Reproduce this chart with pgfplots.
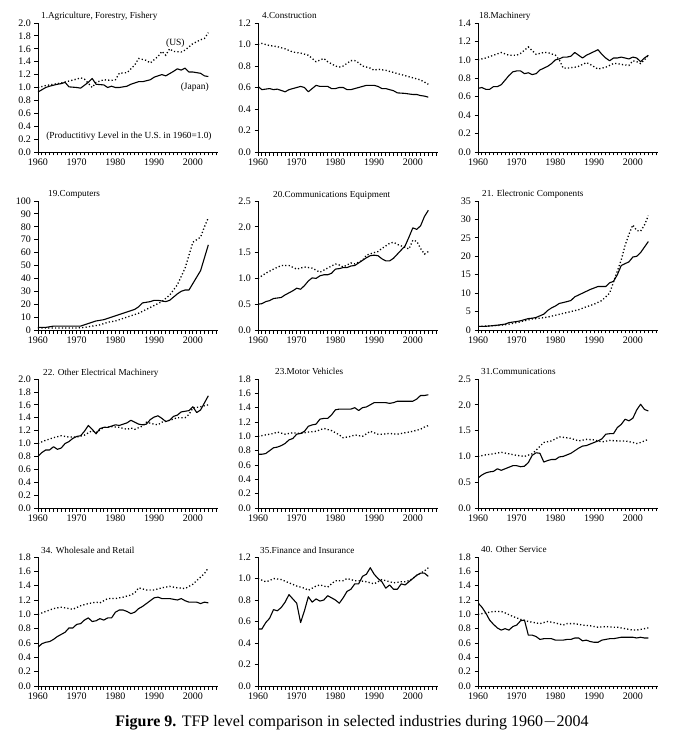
\documentclass[border=0pt]{standalone}
\usepackage{pgfplots}
\pgfplotsset{compat=1.18}
\usepgfplotslibrary{groupplots}
\usepackage{fontspec}
\setmainfont{Liberation Serif}

\pgfplotsset{
  tfp/.style={
    scale only axis, width=180pt, height=129pt,
    clip mode=individual,
    axis lines=left, axis line style={-, line width=0.9pt},
    xmin=1960, xmax=2006.5, ymin=0,
    xtick={1960,1970,1980,1990,2000},
    minor xtick={1960,...,2006},
    tick align=outside,
    major tick length=3.5pt, minor tick length=3.5pt,
    tick style={black, line width=0.8pt},
    tick label style={font=\fontsize{10}{10}\selectfont},
    /pgf/number format/assume math mode=true,
    yticklabel style={/pgf/number format/.cd, fixed, fixed zerofill, precision=1},
    xticklabel style={/pgf/number format/.cd, 1000 sep={}},
  },
  jp/.style={black, line width=1.1pt, line join=round},
  us/.style={black, line width=1.3pt, dash pattern=on 1.2pt off 2.2pt},
}
\newcommand{\ttl}[2]{\node[anchor=base west, inner sep=0pt, font=\fontsize{9.2}{9.2}\selectfont] at ([xshift=#1pt,yshift=4pt]rel axis cs:0,1) {#2};}

\begin{document}
\begin{tikzpicture}
\begin{groupplot}[group style={group size=3 by 4, horizontal sep=40pt, vertical sep=49pt}, tfp]

% 1 Agriculture
\nextgroupplot[ymax=2.0, ytick={0,0.2,0.4,0.6,0.8,1.0,1.2,1.4,1.6,1.8,2.0}]
\addplot[jp] coordinates {(1960,0.93)(1962,1.0)(1963,1.02)(1965,1.05)(1966,1.06)(1967,1.08)(1968,1.01)(1970,1.0)(1971,0.99)(1973,1.08)(1974,1.14)(1975,1.05)(1977,1.04)(1978,1.0)(1979,1.02)(1980,1.0)(1981,1.0)(1983,1.02)(1984,1.05)(1986,1.09)(1987,1.09)(1989,1.12)(1990,1.16)(1992,1.2)(1993,1.18)(1995,1.25)(1996,1.29)(1997,1.27)(1998,1.3)(1999,1.24)(2000,1.24)(2002,1.22)(2003,1.18)(2004,1.17)};
\addplot[us] coordinates {(1960,1.0)(1962,1.03)(1964,1.05)(1966,1.07)(1968,1.1)(1970,1.13)(1971,1.15)(1972,1.13)(1974,1.0)(1975,1.08)(1977,1.12)(1979,1.11)(1980,1.12)(1981,1.22)(1983,1.23)(1985,1.35)(1986,1.45)(1988,1.42)(1989,1.38)(1991,1.48)(1992,1.56)(1993,1.5)(1994,1.6)(1995,1.56)(1997,1.55)(1998,1.58)(2000,1.68)(2002,1.74)(2003,1.76)(2004,1.85)};
\ttl{3}{1.Agriculture, Forestry, Fishery}
\node[font=\fontsize{9.5}{9.5}\selectfont] at (axis cs:1995.5,1.68) {(US)};
\node[font=\fontsize{9.5}{9.5}\selectfont] at (axis cs:2000.5,1.0) {(Japan)};
\node[font=\fontsize{9.3}{9.3}\selectfont] at (axis cs:1983.5,0.24) {(Productitivy Level in the U.S. in 1960=1.0)};

% 4 Construction
\nextgroupplot[ymax=1.2, ytick={0,0.2,0.4,0.6,0.8,1.0,1.2}]
\addplot[jp] coordinates {(1960,0.61)(1961,0.58)(1963,0.59)(1964,0.58)(1965,0.585)(1967,0.56)(1968,0.58)(1969,0.59)(1971,0.61)(1972,0.6)(1973,0.56)(1974,0.59)(1975,0.62)(1976,0.61)(1978,0.61)(1979,0.59)(1980,0.59)(1981,0.6)(1982,0.6)(1983,0.58)(1984,0.58)(1986,0.6)(1987,0.61)(1988,0.62)(1990,0.62)(1991,0.61)(1992,0.59)(1993,0.59)(1995,0.57)(1996,0.55)(1998,0.545)(2000,0.535)(2001,0.535)(2002,0.525)(2003,0.52)(2004,0.51)};
\addplot[us] coordinates {(1960,1.0)(1961,1.01)(1963,0.99)(1965,0.98)(1967,0.96)(1969,0.93)(1971,0.92)(1973,0.9)(1975,0.84)(1977,0.87)(1978,0.84)(1980,0.8)(1981,0.79)(1982,0.8)(1984,0.85)(1985,0.85)(1986,0.83)(1987,0.8)(1989,0.78)(1990,0.76)(1991,0.77)(1993,0.76)(1994,0.75)(1996,0.73)(1997,0.72)(1999,0.7)(2001,0.68)(2002,0.67)(2003,0.65)(2004,0.63)};
\ttl{4}{4.Construction}

% 18 Machinery
\nextgroupplot[ymax=1.4, ytick={0,0.2,0.4,0.6,0.8,1.0,1.2,1.4}]
\addplot[jp] coordinates {(1960,0.69)(1961,0.7)(1962,0.68)(1963,0.68)(1964,0.71)(1965,0.71)(1966,0.73)(1967,0.78)(1968,0.83)(1969,0.87)(1970,0.88)(1971,0.88)(1972,0.85)(1973,0.86)(1974,0.84)(1975,0.85)(1976,0.89)(1977,0.91)(1978,0.93)(1979,0.96)(1980,1.0)(1981,1.01)(1982,1.03)(1983,1.03)(1984,1.04)(1985,1.08)(1986,1.05)(1987,1.02)(1988,1.05)(1989,1.07)(1990,1.09)(1991,1.11)(1992,1.06)(1993,1.02)(1994,0.99)(1995,1.02)(1996,1.02)(1997,1.03)(1998,1.02)(1999,1.01)(2000,1.03)(2001,1.02)(2002,0.98)(2003,1.02)(2004,1.05)};
\addplot[us] coordinates {(1960,1.0)(1962,1.02)(1964,1.05)(1966,1.08)(1968,1.05)(1970,1.05)(1971,1.07)(1973,1.14)(1974,1.1)(1975,1.06)(1977,1.08)(1978,1.08)(1980,1.05)(1981,1.0)(1982,0.91)(1983,0.91)(1985,0.92)(1986,0.93)(1988,0.97)(1989,0.95)(1991,0.9)(1993,0.92)(1995,0.96)(1996,0.96)(1997,0.95)(1999,0.94)(2000,0.99)(2001,0.98)(2002,0.96)(2003,1.0)(2004,1.05)};
\ttl{1}{18.Machinery}

% 19 Computers
\nextgroupplot[ymax=100, ytick={0,10,20,30,40,50,60,70,80,90,100}, yticklabel style={/pgf/number format/.cd, fixed, precision=0}]
\addplot[jp] coordinates {(1960,2)(1962,2)(1964,3)(1967,3)(1970,3)(1971,3)(1972,4)(1974,6)(1975,7)(1977,8)(1978,9)(1980,11)(1981,12)(1983,14)(1985,16)(1986,18)(1987,21)(1989,22)(1990,23)(1991,23)(1993,22)(1994,23)(1996,28)(1997,30)(1998,31)(1999,31)(2000,36)(2002,46)(2003,56)(2004,66)};
\addplot[us] coordinates {(1960,1.5)(1965,1.5)(1970,1.5)(1972,2)(1974,3)(1976,4)(1978,6)(1980,7)(1982,9)(1984,11)(1986,13)(1988,16)(1990,19)(1992,22)(1994,27)(1996,35)(1998,48)(2000,68)(2001,70)(2002,72)(2003,80)(2004,87)};
\ttl{10}{19.Computers}

% 20 Communications Equipment
\nextgroupplot[ymax=2.5, ytick={0,0.5,1.0,1.5,2.0,2.5}]
\addplot[jp] coordinates {(1960,0.5)(1961,0.51)(1962,0.55)(1963,0.57)(1964,0.61)(1966,0.63)(1967,0.68)(1968,0.72)(1969,0.76)(1970,0.81)(1971,0.79)(1972,0.86)(1973,0.95)(1974,1.01)(1975,1.0)(1976,1.05)(1977,1.07)(1978,1.07)(1979,1.1)(1980,1.18)(1981,1.19)(1982,1.21)(1983,1.21)(1984,1.24)(1985,1.25)(1986,1.3)(1987,1.35)(1988,1.4)(1989,1.44)(1990,1.45)(1991,1.44)(1992,1.38)(1993,1.34)(1994,1.34)(1995,1.39)(1996,1.47)(1997,1.55)(1998,1.63)(1999,1.8)(2000,1.98)(2001,1.95)(2002,2.02)(2003,2.2)(2004,2.32)};
\addplot[us] coordinates {(1960,1.0)(1962,1.1)(1964,1.18)(1966,1.25)(1968,1.25)(1970,1.18)(1972,1.22)(1974,1.2)(1976,1.12)(1978,1.2)(1980,1.28)(1981,1.26)(1982,1.22)(1984,1.3)(1985,1.28)(1987,1.35)(1988,1.45)(1990,1.5)(1991,1.52)(1992,1.58)(1994,1.68)(1995,1.7)(1996,1.66)(1998,1.6)(1999,1.57)(2000,1.74)(2001,1.72)(2002,1.58)(2003,1.47)(2004,1.52)};
\ttl{15}{20.Communications Equipment}

% 21 Electronic Components
\nextgroupplot[ymax=35, ytick={0,5,10,15,20,25,30,35}, yticklabel style={/pgf/number format/.cd, fixed, precision=0}]
\addplot[jp] coordinates {(1960,1)(1962,1)(1964,1.2)(1965,1.3)(1967,1.6)(1968,2)(1970,2.3)(1971,2.5)(1973,3.1)(1974,3.2)(1975,3.4)(1977,4.3)(1978,5.3)(1979,6)(1980,6.5)(1981,7.2)(1983,7.7)(1984,8)(1985,9)(1987,10)(1988,10.5)(1989,11)(1991,11.8)(1992,11.8)(1993,11.8)(1994,12.8)(1995,13.2)(1996,15)(1997,17.5)(1998,18)(1999,18.5)(2000,19.8)(2001,20)(2002,21)(2003,22.5)(2004,24)};
\addplot[us] coordinates {(1960,1)(1963,1.1)(1966,1.3)(1968,1.6)(1970,2)(1972,2.5)(1974,3)(1976,3.2)(1978,3.5)(1980,4)(1982,4.5)(1984,5)(1986,5.5)(1988,6.3)(1990,7)(1992,8)(1993,9)(1994,10)(1995,13)(1996,16)(1997,19)(1998,23)(1999,26)(2000,28.5)(2001,27)(2002,26.8)(2003,28.5)(2004,31)};
\ttl{4}{21. Electronic Components}

% 22 Other Electrical Machinery
\nextgroupplot[ymax=2.0, ytick={0,0.2,0.4,0.6,0.8,1.0,1.2,1.4,1.6,1.8,2.0}]
\addplot[jp] coordinates {(1960,0.8)(1961,0.86)(1962,0.9)(1963,0.9)(1964,0.95)(1965,0.91)(1966,0.93)(1967,1.0)(1968,1.03)(1969,1.08)(1970,1.11)(1971,1.12)(1972,1.19)(1973,1.28)(1974,1.22)(1975,1.15)(1976,1.23)(1977,1.25)(1978,1.25)(1979,1.27)(1980,1.29)(1981,1.28)(1982,1.3)(1983,1.32)(1984,1.36)(1985,1.33)(1986,1.3)(1987,1.29)(1988,1.3)(1989,1.37)(1990,1.41)(1991,1.43)(1992,1.39)(1993,1.34)(1994,1.36)(1995,1.42)(1996,1.44)(1997,1.49)(1998,1.5)(1999,1.51)(2000,1.57)(2001,1.48)(2002,1.52)(2003,1.63)(2004,1.74)};
\addplot[us] coordinates {(1960,1.0)(1962,1.05)(1964,1.09)(1966,1.12)(1968,1.1)(1970,1.1)(1972,1.13)(1974,1.2)(1975,1.17)(1977,1.25)(1979,1.26)(1981,1.25)(1983,1.22)(1984,1.24)(1985,1.22)(1987,1.27)(1988,1.33)(1990,1.3)(1991,1.29)(1992,1.33)(1994,1.36)(1996,1.4)(1998,1.4)(1999,1.45)(2000,1.55)(2002,1.57)(2004,1.6)};
\ttl{5}{22. Other Electrical Machinery}

% 23 Motor Vehicles
\nextgroupplot[ymax=1.8, ytick={0,0.2,0.4,0.6,0.8,1.0,1.2,1.4,1.6,1.8}]
\addplot[jp] coordinates {(1960,0.75)(1961,0.75)(1962,0.76)(1963,0.8)(1964,0.84)(1965,0.85)(1966,0.87)(1967,0.9)(1968,0.95)(1969,0.97)(1970,1.03)(1971,1.04)(1972,1.07)(1973,1.14)(1974,1.16)(1975,1.17)(1976,1.24)(1977,1.25)(1978,1.25)(1979,1.3)(1980,1.37)(1981,1.38)(1982,1.38)(1983,1.38)(1984,1.38)(1985,1.4)(1986,1.36)(1987,1.4)(1988,1.41)(1989,1.44)(1990,1.47)(1992,1.47)(1993,1.47)(1994,1.46)(1995,1.47)(1996,1.49)(1998,1.49)(2000,1.49)(2001,1.52)(2002,1.57)(2003,1.57)(2004,1.58)};
\addplot[us] coordinates {(1960,1.0)(1962,1.02)(1964,1.04)(1965,1.06)(1967,1.03)(1969,1.05)(1971,1.04)(1973,1.06)(1975,1.07)(1977,1.11)(1979,1.08)(1981,1.02)(1982,0.98)(1984,1.0)(1985,1.02)(1987,1.0)(1989,1.07)(1991,1.03)(1992,1.03)(1994,1.04)(1996,1.03)(1998,1.05)(2000,1.07)(2002,1.1)(2003,1.13)(2004,1.15)};
\ttl{17}{23.Motor Vehicles}

% 31 Communications
\nextgroupplot[ymax=2.5, ytick={0,0.5,1.0,1.5,2.0,2.5}]
\addplot[jp] coordinates {(1960,0.58)(1961,0.64)(1962,0.68)(1963,0.7)(1964,0.71)(1965,0.76)(1966,0.73)(1967,0.76)(1968,0.79)(1969,0.82)(1970,0.82)(1971,0.8)(1972,0.81)(1973,0.88)(1974,1.02)(1975,1.07)(1976,1.06)(1977,0.89)(1978,0.92)(1979,0.94)(1980,0.94)(1981,0.99)(1982,1.0)(1983,1.03)(1984,1.06)(1985,1.11)(1986,1.16)(1987,1.2)(1988,1.21)(1989,1.24)(1990,1.27)(1991,1.3)(1992,1.34)(1993,1.43)(1994,1.44)(1995,1.44)(1996,1.56)(1997,1.62)(1998,1.72)(1999,1.69)(2000,1.74)(2001,1.9)(2002,2.01)(2003,1.91)(2004,1.88)};
\addplot[us] coordinates {(1960,1.0)(1962,1.03)(1964,1.05)(1966,1.08)(1968,1.05)(1970,1.02)(1972,1.0)(1974,1.05)(1975,1.12)(1977,1.27)(1979,1.3)(1981,1.38)(1983,1.36)(1984,1.35)(1986,1.3)(1988,1.33)(1990,1.32)(1992,1.28)(1994,1.31)(1996,1.3)(1998,1.3)(2000,1.27)(2001,1.25)(2002,1.27)(2003,1.3)(2004,1.33)};
\ttl{3}{31.Communications}

% 34 Wholesale and Retail
\nextgroupplot[ymax=1.8, ytick={0,0.2,0.4,0.6,0.8,1.0,1.2,1.4,1.6,1.8}]
\addplot[jp] coordinates {(1960,0.54)(1961,0.59)(1962,0.61)(1963,0.62)(1964,0.65)(1965,0.69)(1966,0.72)(1967,0.75)(1968,0.81)(1969,0.81)(1970,0.86)(1971,0.87)(1972,0.92)(1973,0.95)(1974,0.9)(1975,0.91)(1976,0.94)(1977,0.92)(1978,0.95)(1979,0.95)(1980,1.03)(1981,1.06)(1982,1.06)(1983,1.04)(1984,1.01)(1985,1.03)(1986,1.08)(1987,1.11)(1988,1.15)(1989,1.19)(1990,1.23)(1991,1.24)(1992,1.22)(1993,1.22)(1994,1.22)(1995,1.21)(1996,1.2)(1997,1.22)(1998,1.19)(1999,1.17)(2000,1.17)(2001,1.17)(2002,1.15)(2003,1.17)(2004,1.16)};
\addplot[us] coordinates {(1960,1.0)(1962,1.04)(1964,1.08)(1966,1.1)(1968,1.08)(1969,1.07)(1971,1.12)(1973,1.15)(1975,1.17)(1976,1.16)(1978,1.22)(1980,1.22)(1982,1.24)(1984,1.27)(1985,1.3)(1986,1.37)(1988,1.34)(1990,1.34)(1992,1.37)(1994,1.39)(1996,1.37)(1998,1.36)(2000,1.42)(2001,1.47)(2002,1.52)(2003,1.57)(2004,1.65)};
\ttl{3}{34. Wholesale and Retail}

% 35 Finance and Insurance
\nextgroupplot[ymax=1.2, ytick={0,0.2,0.4,0.6,0.8,1.0,1.2}]
\addplot[jp] coordinates {(1960,0.53)(1961,0.53)(1962,0.59)(1963,0.63)(1964,0.71)(1965,0.7)(1966,0.73)(1967,0.78)(1968,0.85)(1969,0.81)(1970,0.77)(1971,0.59)(1972,0.7)(1973,0.83)(1974,0.78)(1975,0.81)(1976,0.79)(1977,0.8)(1978,0.84)(1979,0.82)(1980,0.8)(1981,0.77)(1982,0.82)(1983,0.88)(1984,0.9)(1985,0.95)(1986,0.95)(1987,1.02)(1988,1.04)(1989,1.1)(1990,1.04)(1991,1.0)(1992,0.97)(1993,0.91)(1994,0.94)(1995,0.9)(1996,0.9)(1997,0.95)(1998,0.94)(1999,0.97)(2000,1.0)(2001,1.03)(2002,1.05)(2003,1.05)(2004,1.02)};
\addplot[us] coordinates {(1960,1.0)(1962,0.97)(1963,0.98)(1964,1.0)(1966,0.99)(1968,0.96)(1970,0.93)(1972,0.91)(1973,0.89)(1975,0.93)(1976,0.94)(1978,0.92)(1979,0.95)(1980,0.98)(1982,0.98)(1983,1.0)(1985,0.98)(1986,0.98)(1988,0.97)(1990,0.95)(1991,0.97)(1992,0.99)(1993,0.98)(1995,0.96)(1997,0.97)(1998,0.97)(1999,0.98)(2000,1.0)(2001,1.03)(2002,1.05)(2003,1.07)(2004,1.1)};
\ttl{2}{35.Finance and Insurance}

% 40 Other Service
\nextgroupplot[ymax=1.8, ytick={0,0.2,0.4,0.6,0.8,1.0,1.2,1.4,1.6,1.8}]
\addplot[jp] coordinates {(1960,1.16)(1961,1.1)(1962,1.02)(1963,0.92)(1964,0.86)(1965,0.81)(1966,0.78)(1967,0.8)(1968,0.78)(1969,0.83)(1970,0.85)(1971,0.91)(1972,0.92)(1973,0.71)(1974,0.71)(1975,0.69)(1976,0.65)(1977,0.66)(1978,0.66)(1979,0.66)(1980,0.64)(1981,0.64)(1982,0.64)(1983,0.65)(1984,0.65)(1985,0.67)(1986,0.67)(1987,0.63)(1988,0.64)(1989,0.62)(1990,0.61)(1991,0.61)(1992,0.64)(1993,0.65)(1994,0.66)(1995,0.66)(1996,0.67)(1997,0.68)(1998,0.68)(1999,0.68)(2000,0.68)(2001,0.67)(2002,0.68)(2003,0.67)(2004,0.67)};
\addplot[us] coordinates {(1960,1.0)(1962,1.02)(1964,1.04)(1966,1.04)(1967,1.02)(1969,0.97)(1971,0.93)(1973,0.9)(1975,0.88)(1976,0.87)(1978,0.9)(1980,0.88)(1982,0.85)(1983,0.87)(1985,0.87)(1987,0.85)(1989,0.84)(1991,0.82)(1993,0.83)(1995,0.82)(1996,0.82)(1998,0.8)(2000,0.78)(2001,0.78)(2003,0.8)(2004,0.81)};
\ttl{3}{40. Other Service}
\end{groupplot}

\node[font=\fontsize{16}{16}\selectfont] at ([xshift=314pt,yshift=-700pt]group c1r1.north west) {\textbf{Figure 9.} TFP level comparison in selected industries during 1960$-$2004};
\pgfresetboundingbox
\path[use as bounding box] ([xshift=-38pt,yshift=23pt]group c1r1.north west) rectangle ([xshift=650pt,yshift=-724pt]group c1r1.north west);
\end{tikzpicture}
\end{document}
